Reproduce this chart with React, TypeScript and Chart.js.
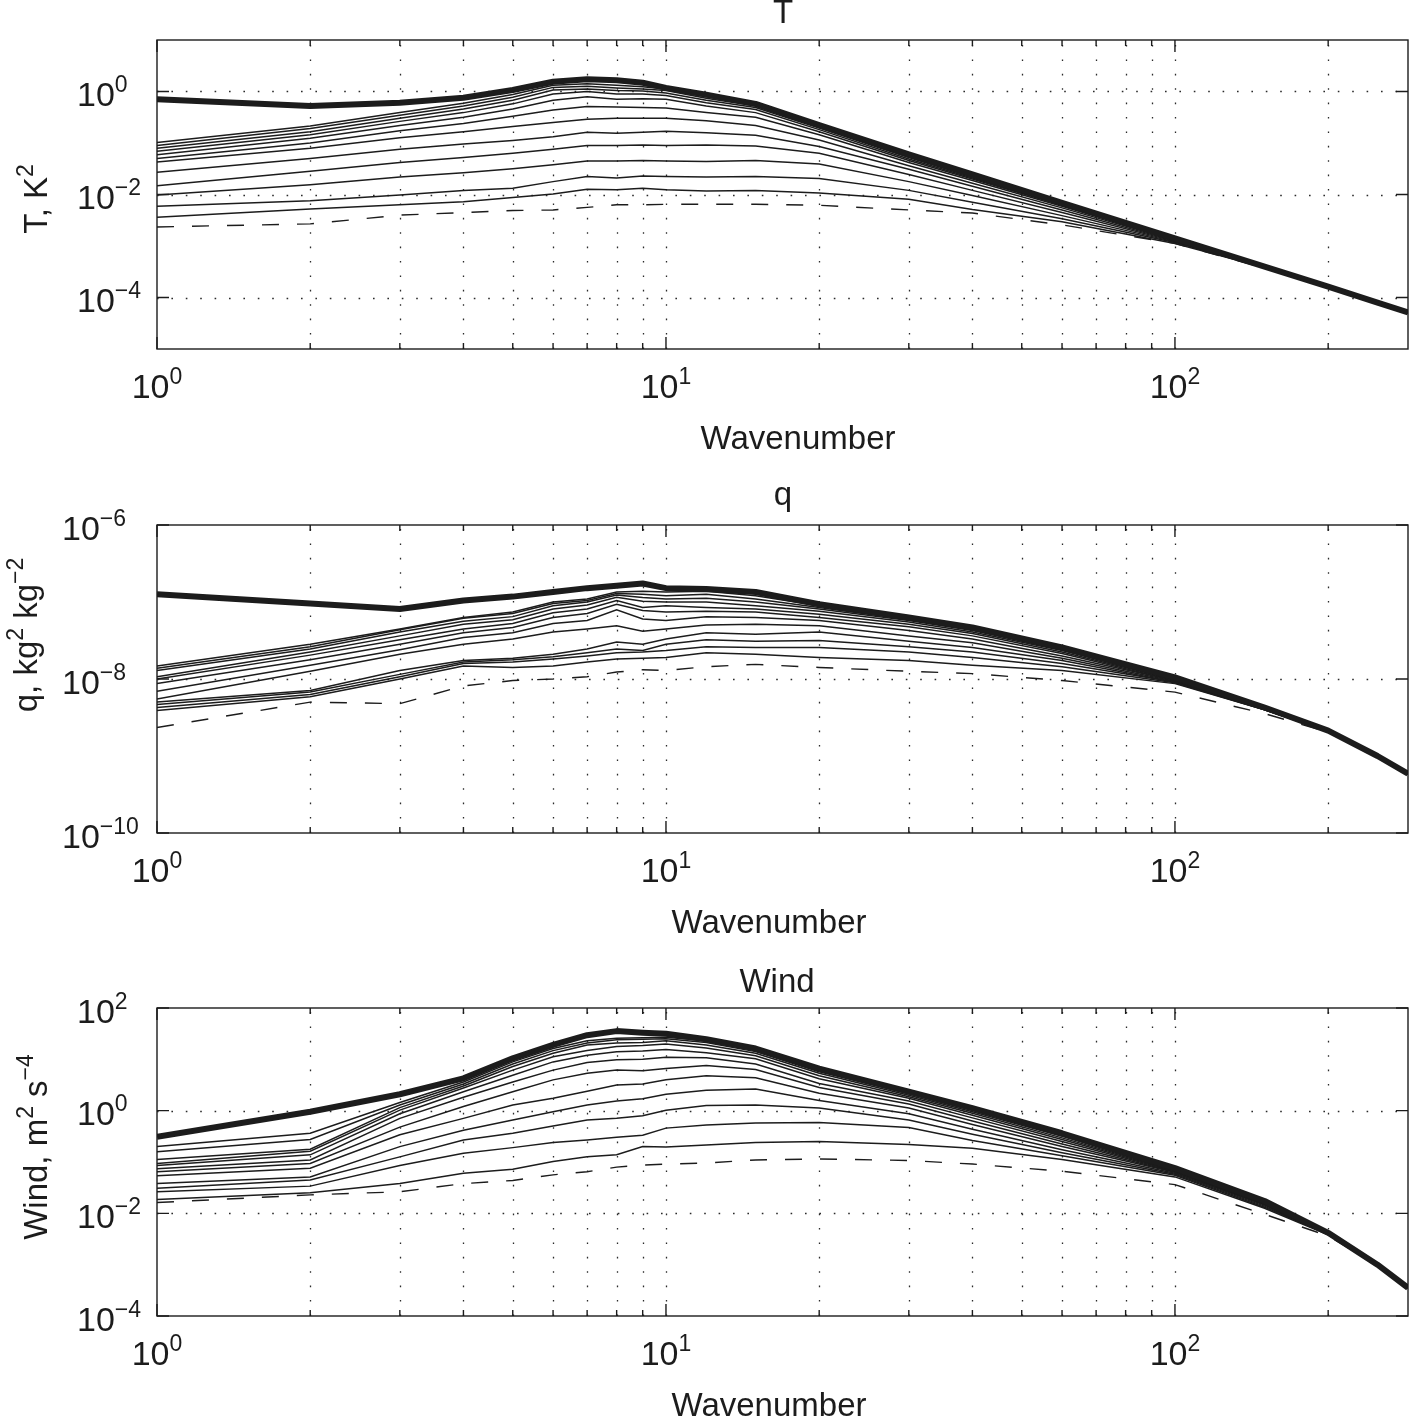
import { useEffect, useRef } from "react";
import Chart from "chart.js/auto";

const FONT = 'Helvetica, "Liberation Sans", Arial, sans-serif';
const INK = "#1c1c1c";
const PAGE_W = 1411;
const PAGE_H = 1421;
const PLOT_LEFT = 157;
const PLOT_RIGHT = 1408;

const wavenumbers = [1, 2, 3, 4, 5, 6, 7, 8, 9, 10, 12, 15, 20, 30, 40, 60, 100, 150, 200, 250, 287];
const xMax = 287;
const xMinorTicks = [2, 3, 4, 5, 6, 7, 8, 9, 10, 20, 30, 40, 50, 60, 70, 80, 90, 100, 200];
const xMajorTicks = [1, 10, 100];

// ---- T panel (log10 of K^2) ----
const tThick = [-0.15, -0.28, -0.22, -0.12, 0.03, 0.19, 0.24, 0.22, 0.17, 0.07, -0.06, -0.24, -0.65, -1.22, -1.61, -2.16, -2.85, -3.4, -3.79, -4.1, -4.29];
const tDashed = [-2.63, -2.57, -2.4, -2.35, -2.31, -2.3, -2.25, -2.2, -2.2, -2.19, -2.19, -2.19, -2.21, -2.3, -2.36, -2.59, -2.95, -3.43, -3.81, -4.11, -4.3];
const tThin = [
  [-0.99, -0.67, -0.41, -0.23, -0.06, 0.12, 0.15, 0.12, 0.09, 0.05, -0.1, -0.26, -0.67, -1.24, -1.63, -2.17, -2.85, -3.4, -3.79, -4.1, -4.29],
  [-1.05, -0.72, -0.46, -0.28, -0.11, 0.08, 0.1, 0.07, 0.05, 0.02, -0.13, -0.28, -0.69, -1.26, -1.64, -2.18, -2.86, -3.4, -3.79, -4.1, -4.29],
  [-1.1, -0.78, -0.52, -0.34, -0.17, 0.03, 0.05, 0.02, 0.01, -0.03, -0.17, -0.31, -0.71, -1.28, -1.66, -2.19, -2.86, -3.4, -3.79, -4.1, -4.29],
  [-1.16, -0.84, -0.58, -0.41, -0.24, -0.05, 0.0, -0.05, -0.05, -0.08, -0.22, -0.35, -0.74, -1.31, -1.68, -2.2, -2.87, -3.4, -3.79, -4.1, -4.29],
  [-1.23, -0.91, -0.66, -0.5, -0.34, -0.17, -0.1, -0.15, -0.14, -0.15, -0.28, -0.41, -0.78, -1.34, -1.7, -2.21, -2.87, -3.41, -3.79, -4.1, -4.29],
  [-1.3, -1.0, -0.76, -0.62, -0.48, -0.36, -0.29, -0.3, -0.31, -0.32, -0.41, -0.5, -0.84, -1.38, -1.73, -2.23, -2.88, -3.41, -3.79, -4.1, -4.29],
  [-1.37, -1.1, -0.9, -0.78, -0.68, -0.6, -0.54, -0.52, -0.52, -0.52, -0.57, -0.66, -0.94, -1.44, -1.78, -2.26, -2.89, -3.41, -3.8, -4.1, -4.29],
  [-1.57, -1.3, -1.12, -1.02, -0.95, -0.88, -0.79, -0.81, -0.79, -0.77, -0.8, -0.85, -1.07, -1.51, -1.84, -2.3, -2.9, -3.41, -3.8, -4.1, -4.29],
  [-1.83, -1.55, -1.38, -1.28, -1.2, -1.12, -1.05, -1.05, -1.04, -1.05, -1.04, -1.06, -1.2, -1.61, -1.92, -2.35, -2.91, -3.42, -3.8, -4.1, -4.29],
  [-2.01, -1.81, -1.66, -1.58, -1.5, -1.42, -1.35, -1.35, -1.34, -1.35, -1.36, -1.34, -1.41, -1.75, -2.02, -2.41, -2.92, -3.42, -3.8, -4.1, -4.29],
  [-2.23, -2.12, -2.01, -1.92, -1.88, -1.75, -1.65, -1.68, -1.64, -1.65, -1.66, -1.65, -1.69, -1.92, -2.15, -2.47, -2.93, -3.42, -3.8, -4.1, -4.29],
  [-2.44, -2.28, -2.2, -2.14, -2.06, -1.99, -1.9, -1.91, -1.88, -1.91, -1.93, -1.92, -1.97, -2.09, -2.29, -2.53, -2.95, -3.42, -3.8, -4.1, -4.29],
];
const tYTicks = [0, -2, -4];

// ---- q panel (log10 of kg^2 kg^-2) ----
const qThick = [-6.9, -7.02, -7.09, -6.98, -6.93, -6.87, -6.82, -6.79, -6.76, -6.82, -6.83, -6.87, -7.03, -7.2, -7.33, -7.59, -7.98, -8.37, -8.67, -9.0, -9.23];
const qDashed = [-8.63, -8.3, -8.32, -8.09, -8.02, -8.0, -7.97, -7.91, -7.88, -7.89, -7.84, -7.81, -7.85, -7.9, -7.93, -8.02, -8.17, -8.45, -8.69, -9.01, -9.24];
const qThin = [
  [-7.83, -7.55, -7.35, -7.2, -7.13, -7.0, -6.96, -6.87, -6.86, -6.87, -6.86, -6.92, -7.05, -7.22, -7.35, -7.6, -7.99, -8.37, -8.67, -9.0, -9.23],
  [-7.86, -7.58, -7.36, -7.21, -7.15, -7.02, -6.98, -6.89, -6.9, -6.92, -6.9, -6.96, -7.07, -7.23, -7.36, -7.61, -7.99, -8.37, -8.67, -9.0, -9.23],
  [-7.89, -7.61, -7.39, -7.25, -7.19, -7.05, -7.0, -6.91, -6.94, -6.96, -6.95, -7.0, -7.09, -7.24, -7.37, -7.62, -8.0, -8.38, -8.67, -9.0, -9.23],
  [-7.97, -7.65, -7.44, -7.29, -7.23, -7.09, -7.04, -6.94, -6.99, -7.0, -7.0, -7.05, -7.12, -7.26, -7.39, -7.63, -8.0, -8.38, -8.67, -9.0, -9.23],
  [-8.0, -7.69, -7.49, -7.35, -7.28, -7.14, -7.09, -6.98, -7.07, -7.05, -7.07, -7.09, -7.16, -7.29, -7.41, -7.65, -8.01, -8.38, -8.67, -9.0, -9.23],
  [-8.06, -7.75, -7.55, -7.4, -7.33, -7.2, -7.15, -7.03, -7.11, -7.13, -7.12, -7.13, -7.2, -7.32, -7.44, -7.67, -8.02, -8.38, -8.68, -9.0, -9.23],
  [-8.16, -7.82, -7.62, -7.46, -7.4, -7.28, -7.24, -7.1, -7.22, -7.24, -7.19, -7.2, -7.24, -7.37, -7.48, -7.7, -8.02, -8.39, -8.68, -9.0, -9.23],
  [-8.26, -7.9, -7.68, -7.55, -7.48, -7.39, -7.35, -7.31, -7.38, -7.35, -7.3, -7.29, -7.31, -7.44, -7.53, -7.73, -8.03, -8.39, -8.68, -9.0, -9.23],
  [-8.3, -8.15, -7.89, -7.76, -7.73, -7.68, -7.61, -7.52, -7.55, -7.48, -7.4, -7.42, -7.39, -7.51, -7.59, -7.76, -8.04, -8.39, -8.68, -9.0, -9.23],
  [-8.33, -8.17, -7.94, -7.78, -7.75, -7.71, -7.66, -7.61, -7.63, -7.55, -7.49, -7.51, -7.5, -7.58, -7.65, -7.8, -8.04, -8.4, -8.68, -9.0, -9.23],
  [-8.37, -8.2, -7.97, -7.8, -7.78, -7.74, -7.7, -7.66, -7.65, -7.63, -7.58, -7.59, -7.59, -7.65, -7.72, -7.84, -8.05, -8.4, -8.68, -9.0, -9.23],
  [-8.41, -8.23, -8.0, -7.83, -7.85, -7.83, -7.78, -7.74, -7.73, -7.72, -7.66, -7.68, -7.72, -7.76, -7.82, -7.89, -8.06, -8.4, -8.68, -9.0, -9.23],
];
const qYTicks = [-6, -8, -10];

// ---- Wind panel (log10 of m^2 s^-4) ----
const wThick = [-0.51, -0.02, 0.32, 0.63, 1.02, 1.28, 1.47, 1.55, 1.52, 1.5, 1.39, 1.21, 0.82, 0.37, 0.05, -0.44, -1.12, -1.76, -2.38, -3.0, -3.45];
const wDashed = [-1.79, -1.64, -1.58, -1.42, -1.36, -1.25, -1.19, -1.1, -1.06, -1.04, -1.02, -0.96, -0.94, -0.97, -1.04, -1.18, -1.44, -2.02, -2.44, -3.01, -3.46];
const wThin = [
  [-0.7, -0.44, 0.16, 0.56, 0.95, 1.21, 1.36, 1.41, 1.42, 1.43, 1.36, 1.18, 0.79, 0.35, 0.03, -0.46, -1.13, -1.77, -2.38, -3.0, -3.45],
  [-0.8, -0.56, 0.11, 0.52, 0.91, 1.17, 1.32, 1.38, 1.39, 1.4, 1.33, 1.15, 0.76, 0.33, 0.01, -0.48, -1.14, -1.78, -2.38, -3.0, -3.45],
  [-0.95, -0.75, 0.06, 0.48, 0.86, 1.12, 1.28, 1.32, 1.33, 1.36, 1.28, 1.12, 0.73, 0.3, -0.02, -0.5, -1.15, -1.78, -2.39, -3.0, -3.45],
  [-1.03, -0.79, 0.01, 0.44, 0.79, 1.05, 1.17, 1.25, 1.27, 1.3, 1.22, 1.07, 0.68, 0.27, -0.05, -0.53, -1.16, -1.79, -2.39, -3.0, -3.45],
  [-1.07, -0.86, -0.06, 0.37, 0.69, 0.95, 1.08, 1.15, 1.16, 1.19, 1.13, 1.01, 0.62, 0.24, -0.09, -0.56, -1.17, -1.8, -2.39, -3.0, -3.45],
  [-1.13, -0.96, -0.15, 0.26, 0.56, 0.79, 0.94, 0.99, 1.0, 1.04, 1.03, 0.91, 0.53, 0.19, -0.14, -0.6, -1.18, -1.81, -2.39, -3.0, -3.45],
  [-1.19, -1.03, -0.32, 0.08, 0.37, 0.6, 0.73, 0.79, 0.78, 0.82, 0.88, 0.8, 0.45, 0.13, -0.2, -0.65, -1.19, -1.82, -2.4, -3.0, -3.45],
  [-1.27, -1.12, -0.47, -0.15, 0.11, 0.24, 0.38, 0.5, 0.52, 0.6, 0.68, 0.64, 0.34, 0.05, -0.27, -0.7, -1.2, -1.83, -2.4, -3.0, -3.45],
  [-1.42, -1.29, -0.7, -0.38, -0.18, -0.02, 0.11, 0.19, 0.23, 0.32, 0.4, 0.42, 0.2, -0.06, -0.36, -0.76, -1.22, -1.84, -2.4, -3.0, -3.45],
  [-1.51, -1.35, -0.9, -0.57, -0.44, -0.3, -0.18, -0.15, -0.1, 0.01, 0.1, 0.11, 0.05, -0.18, -0.46, -0.82, -1.24, -1.86, -2.41, -3.0, -3.45],
  [-1.58, -1.47, -1.07, -0.83, -0.72, -0.62, -0.57, -0.52, -0.48, -0.34, -0.28, -0.24, -0.23, -0.33, -0.58, -0.88, -1.26, -1.88, -2.41, -3.0, -3.45],
  [-1.73, -1.6, -1.42, -1.22, -1.14, -0.99, -0.9, -0.86, -0.7, -0.71, -0.67, -0.62, -0.6, -0.66, -0.73, -0.95, -1.29, -1.9, -2.42, -3.0, -3.46],
];
const wYTicks = [2, 0, -2, -4];

type Seg = { t: string; sup?: boolean };

type Panel = {
  title: string;
  yLabel: Seg[];
  thick: number[];
  dashed: number[];
  thin: number[][];
  yTicks: number[];
  yMin: number;
  yMax: number;
  // page placement (absolute px)
  top: number;
  height: number;
  areaTop: number;
  areaBottom: number;
  titleX: number;
  titleY: number;
  xTickY: number;
  xLabelX: number;
  xLabelY: number;
  yTickX: number;
  yLabelX: number;
  yLabelY: number;
};

const panels: Panel[] = [
  {
    title: "T",
    yLabel: [{ t: "T, K" }, { t: "2", sup: true }],
    thick: tThick, dashed: tDashed, thin: tThin, yTicks: tYTicks, yMin: -5, yMax: 1,
    top: 0, height: 470, areaTop: 40, areaBottom: 349,
    titleX: 783, titleY: 23, xTickY: 398, xLabelX: 798, xLabelY: 449,
    yTickX: 77, yLabelX: 47, yLabelY: 199,
  },
  {
    title: "q",
    yLabel: [{ t: "q, kg" }, { t: "2", sup: true }, { t: " kg" }, { t: "\u22122", sup: true }],
    thick: qThick, dashed: qDashed, thin: qThin, yTicks: qYTicks, yMin: -10, yMax: -6,
    top: 470, height: 485, areaTop: 525, areaBottom: 833,
    titleX: 783, titleY: 505, xTickY: 882, xLabelX: 769, xLabelY: 933,
    yTickX: 62, yLabelX: 37, yLabelY: 635,
  },
  {
    title: "Wind",
    yLabel: [{ t: "Wind, m" }, { t: "2", sup: true }, { t: " s" }, { t: "\u22124", sup: true }],
    thick: wThick, dashed: wDashed, thin: wThin, yTicks: wYTicks, yMin: -4, yMax: 2,
    top: 955, height: 466, areaTop: 1008, areaBottom: 1316,
    titleX: 777, titleY: 992, xTickY: 1365, xLabelX: 769, xLabelY: 1416,
    yTickX: 77, yLabelX: 47, yLabelY: 1147,
  },
];

const TICK_SIZE = 34;
const TICK_SUP = 23;
const LABEL_SIZE = 33;
const LABEL_SUP = 23;

const expText = (e: number) => (e < 0 ? `\u2212${-e}` : `${e}`);

function segsWidth(ctx: CanvasRenderingContext2D, segs: Seg[], size: number, supSize: number) {
  let w = 0;
  for (const s of segs) {
    ctx.font = `${s.sup ? supSize : size}px ${FONT}`;
    w += ctx.measureText(s.t).width;
  }
  return w;
}

function drawSegs(ctx: CanvasRenderingContext2D, segs: Seg[], x: number, y: number, size: number, supSize: number, raise: number) {
  let cx = x;
  for (const s of segs) {
    ctx.font = `${s.sup ? supSize : size}px ${FONT}`;
    ctx.fillText(s.t, cx, s.sup ? y - raise : y);
    cx += ctx.measureText(s.t).width;
  }
}

const toPoints = (logs: number[]) => logs.map((e, i) => ({ x: wavenumbers[i], y: 10 ** e }));

function SpectrumPanel({ panel }: { panel: Panel }) {
  const canvasRef = useRef<HTMLCanvasElement | null>(null);

  useEffect(() => {
    if (!canvasRef.current) return;
    const p = panel;
    const local = (v: number) => v - p.top;

    const matlabAxes = {
      id: "matlabAxes",
      beforeDatasetsDraw(chart: Chart) {
        const { ctx, chartArea: a } = chart;
        const xs = chart.scales.x;
        const ys = chart.scales.y;
        ctx.save();
        ctx.strokeStyle = "#2b2b2b";
        ctx.lineWidth = 1.3;
        ctx.setLineDash([1.6, 12.8]);
        for (const v of xMinorTicks) {
          const px = Math.round(xs.getPixelForValue(v)) + 0.5;
          ctx.beginPath();
          ctx.moveTo(px, a.bottom);
          ctx.lineTo(px, a.top);
          ctx.stroke();
        }
        for (const e of p.yTicks) {
          const py = ys.getPixelForValue(10 ** e);
          if (py < a.top + 2 || py > a.bottom - 2) continue;
          const ry = Math.round(py) + 0.5;
          ctx.beginPath();
          ctx.moveTo(a.left, ry);
          ctx.lineTo(a.right, ry);
          ctx.stroke();
        }
        ctx.restore();
      },
      afterDraw(chart: Chart) {
        const { ctx, chartArea: a } = chart;
        const xs = chart.scales.x;
        const ys = chart.scales.y;
        ctx.save();
        ctx.strokeStyle = INK;
        ctx.fillStyle = INK;
        ctx.lineWidth = 1.4;
        ctx.setLineDash([]);
        ctx.strokeRect(a.left, a.top, a.right - a.left, a.bottom - a.top);

        // inward tick marks
        ctx.beginPath();
        for (const v of [...xMajorTicks, ...xMinorTicks]) {
          const len = xMajorTicks.includes(v) ? 12 : 6;
          const px = xs.getPixelForValue(v);
          ctx.moveTo(px, a.bottom);
          ctx.lineTo(px, a.bottom - len);
          ctx.moveTo(px, a.top);
          ctx.lineTo(px, a.top + len);
        }
        for (const e of p.yTicks) {
          const py = ys.getPixelForValue(10 ** e);
          ctx.moveTo(a.left, py);
          ctx.lineTo(a.left + 12, py);
          ctx.moveTo(a.right, py);
          ctx.lineTo(a.right - 12, py);
        }
        ctx.stroke();

        ctx.textBaseline = "alphabetic";
        ctx.textAlign = "left";

        // x tick labels 10^n
        for (const v of xMajorTicks) {
          const segs: Seg[] = [{ t: "10" }, { t: expText(Math.round(Math.log10(v))), sup: true }];
          const w = segsWidth(ctx, segs, TICK_SIZE, TICK_SUP);
          drawSegs(ctx, segs, xs.getPixelForValue(v) - w / 2, local(p.xTickY), TICK_SIZE, TICK_SUP, 14);
        }
        // y tick labels
        for (const e of p.yTicks) {
          const py = ys.getPixelForValue(10 ** e);
          drawSegs(ctx, [{ t: "10" }, { t: expText(e), sup: true }], p.yTickX, py + 14.5, TICK_SIZE, TICK_SUP, 14);
        }

        // title and x label
        ctx.textAlign = "center";
        ctx.font = `${LABEL_SIZE}px ${FONT}`;
        ctx.fillText(p.title, p.titleX, local(p.titleY));
        ctx.fillText("Wavenumber", p.xLabelX, local(p.xLabelY));

        // rotated y label
        ctx.textAlign = "left";
        const lw = segsWidth(ctx, p.yLabel, LABEL_SIZE, LABEL_SUP);
        ctx.translate(p.yLabelX, local(p.yLabelY));
        ctx.rotate(-Math.PI / 2);
        drawSegs(ctx, p.yLabel, -lw / 2, 0, LABEL_SIZE, LABEL_SUP, 14);
        ctx.restore();
      },
    };

    const chart = new Chart(canvasRef.current, {
      type: "line",
      data: {
        datasets: [
          {
            label: "thick",
            data: toPoints(p.thick),
            borderColor: INK,
            borderWidth: 6,
            borderJoinStyle: "round",
            pointRadius: 0,
          },
          {
            label: "dashed",
            data: toPoints(p.dashed),
            borderColor: INK,
            borderWidth: 1.4,
            borderDash: [17, 18],
            pointRadius: 0,
          },
          ...p.thin.map((row, i) => ({
            label: `thin ${i + 1}`,
            data: toPoints(row),
            borderColor: INK,
            borderWidth: 1.5,
            pointRadius: 0,
          })),
        ],
      },
      options: {
        animation: false,
        responsive: false,
        events: [],
        layout: {
          padding: {
            left: PLOT_LEFT,
            right: PAGE_W - PLOT_RIGHT,
            top: local(p.areaTop),
            bottom: p.height - local(p.areaBottom),
          },
        },
        plugins: {
          legend: { display: false },
          tooltip: { enabled: false },
          title: { display: false },
        },
        scales: {
          x: { type: "logarithmic", min: 1, max: xMax, display: false },
          y: { type: "logarithmic", min: 10 ** p.yMin, max: 10 ** p.yMax, display: false },
        },
      },
      plugins: [matlabAxes],
    });

    return () => {
      chart.destroy();
    };
  }, [panel]);

  return (
    <canvas
      ref={canvasRef}
      width={PAGE_W}
      height={panel.height}
      style={{ position: "absolute", left: 0, top: panel.top, width: PAGE_W, height: panel.height }}
    />
  );
}

export default function App() {
  return (
    <div style={{ position: "absolute", left: 0, top: 0, width: PAGE_W, height: PAGE_H, background: "#fff" }}>
      {panels.map(p => (
        <SpectrumPanel key={p.title} panel={p} />
      ))}
    </div>
  );
}
